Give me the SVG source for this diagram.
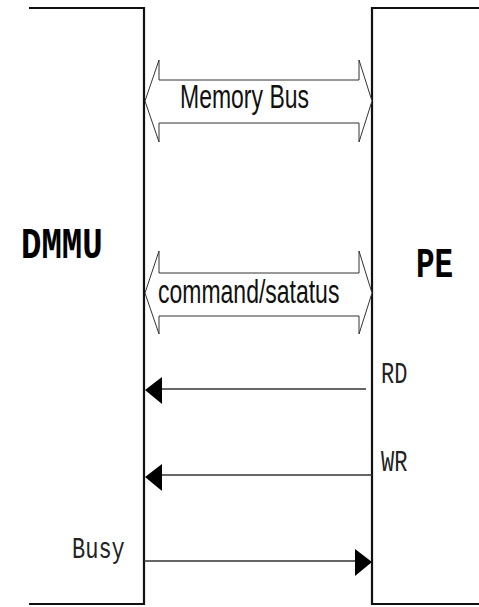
<svg xmlns="http://www.w3.org/2000/svg" width="479" height="607" viewBox="0 0 479 607">
<style>
.box{fill:none;stroke:#111;stroke-width:2.2}
.bus{fill:#fff;stroke:#333;stroke-width:1}
.sig{stroke:#333;stroke-width:1.6;fill:none}
.head{fill:#000;stroke:none}
.sans{font-family:"Liberation Sans",Arial,sans-serif;font-size:23px;fill:#111}
.mono{font-family:"Liberation Mono","Courier New",monospace;font-size:22px;fill:#222}
.big{font-family:"Liberation Mono","Courier New",monospace;font-weight:bold;fill:#000}
</style>
<rect width="479" height="607" fill="#fff"/>
<g id="DMMU">
<path class="box" d="M29,8 H144 V604 H29"/>
<text class="big" font-size="34" transform="translate(21,258) scale(1,1.3)">DMMU</text>
</g>
<g id="PE">
<path class="box" d="M479,8 H372 V604 H479"/>
<text class="big" font-size="31" transform="translate(416,277) scale(1,1.35)">PE</text>
</g>
<g id="connectors">
<g id="memory-bus">
<polygon class="bus" points="145,101 159,60 159,80 359,80 359,60 372,101 359,142 359,123 159,123 159,142"/>
<text class="sans" transform="translate(180,108) scale(1,1.45)">Memory Bus</text>
</g>
<g id="command-status">
<polygon class="bus" points="145,293 159,251 159,273 359,273 359,251 372,293 359,334 359,316 159,316 159,334"/>
<text class="sans" transform="translate(158,303) scale(1,1.45)">command/satatus</text>
</g>
<g id="rd">
<line class="sig" x1="366" y1="389" x2="158" y2="389"/>
<polygon class="head" points="145,390 162,377 162,404"/>
<text class="mono" transform="translate(381,383) scale(1,1.3)">RD</text>
</g>
<g id="wr">
<line class="sig" x1="372" y1="475" x2="158" y2="475"/>
<polygon class="head" points="145,477 162,464 162,491"/>
<text class="mono" transform="translate(381,471) scale(1,1.3)">WR</text>
</g>
<g id="busy">
<line class="sig" x1="144" y1="561" x2="358" y2="561"/>
<polygon class="head" points="372,562 355,549 355,576"/>
<text class="mono" transform="translate(72,558) scale(1,1.3)">Busy</text>
</g>
</g>
</svg>
